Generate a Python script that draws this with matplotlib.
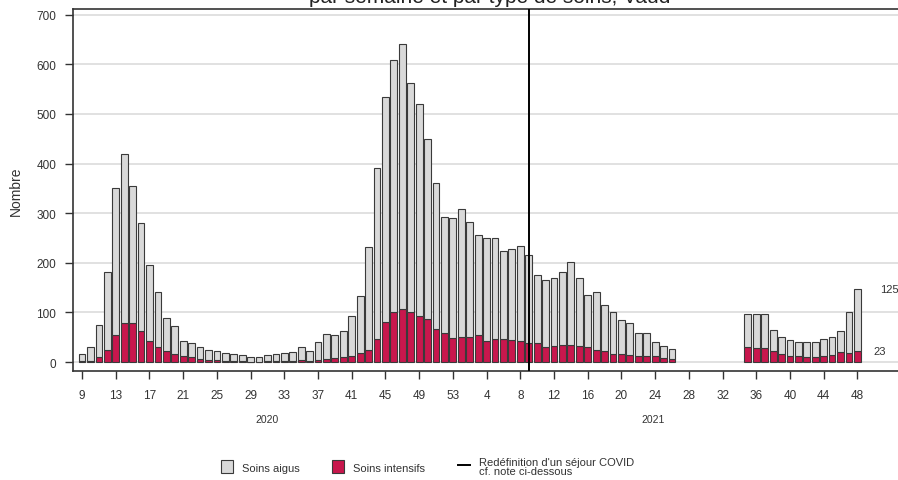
import numpy as np
import matplotlib
matplotlib.use("Agg")
import matplotlib.pyplot as plt
from matplotlib.patches import Patch
from matplotlib.lines import Line2D

plt.rcParams['font.family'] = ['Liberation Sans', 'DejaVu Sans']

# semaines 2020 (9..53) puis 2021 (1..48)
weeks_2020 = list(range(9, 54))
weeks_2021 = list(range(1, 49))

aigus_2020 = [15, 27, 64, 157, 296, 342, 277, 218, 153, 111, 66, 56, 30, 28, 23,
              20, 18, 15, 14, 12, 9, 9, 13, 15, 15, 17, 26, 19, 36, 49,
              46, 52, 79, 116, 207, 345, 454, 509, 535, 462, 427, 364, 295, 235, 243]
intensifs_2020 = [2, 3, 10, 24, 54, 78, 78, 62, 42, 30, 22, 16, 12, 10, 7,
                  5, 4, 3, 2, 2, 1, 1, 2, 2, 3, 3, 4, 3, 5, 7,
                  8, 10, 13, 18, 25, 46, 80, 100, 106, 100, 93, 86, 66, 58, 48]

nan = np.nan
aigus_2021 = [259, 233, 202, 207, 204, 177, 183, 192, 177, 138, 135, 136, 147, 167, 138,
              104, 117, 93, 84, 69, 64, 45, 45, 28, 25, 20,
              nan, nan, nan, nan, nan, nan, nan, nan,
              67, 68, 68, 42, 34, 32, 27, 29, 29, 33, 36, 43, 83, 125]
intensifs_2021 = [50, 50, 54, 43, 46, 46, 45, 42, 39, 38, 30, 33, 34, 35, 32,
                  31, 24, 22, 17, 16, 14, 13, 13, 12, 8, 6,
                  nan, nan, nan, nan, nan, nan, nan, nan,
                  30, 29, 28, 23, 16, 13, 13, 11, 11, 13, 14, 20, 18, 23]

weeks = weeks_2020 + weeks_2021
aigus = np.array(aigus_2020 + aigus_2021, dtype=float)
intensifs = np.array(intensifs_2020 + intensifs_2021, dtype=float)
x = np.arange(len(weeks))

grey = '#d9d9d9'
red = '#c8174d'
edge = '#3a3a3a'

fig = plt.figure(figsize=(8.98, 4.81), dpi=100)
ax = fig.add_axes([0.0813, 0.2266, 0.927, 0.752])

ax.bar(x, intensifs, width=0.8, color=red, edgecolor=edge, linewidth=0.8, zorder=3)
ax.bar(x, aigus, width=0.8, bottom=intensifs, color=grey, edgecolor=edge, linewidth=0.8, zorder=3)

# redefinition du sejour COVID : semaine 9 de 2021
ax.axvline(len(weeks_2020) + 8, color='black', lw=1.4, zorder=4)

ax.set_xlim(-1.07, 97.7)
ax.set_ylim(-18, 711)
ax.set_yticks(range(0, 701, 100))
ax.yaxis.grid(True, color='#dcdcdc', lw=1.2, zorder=0)

tick_pos = [i for i, w in enumerate(weeks_2020) if (w - 9) % 4 == 0]
tick_pos += [len(weeks_2020) + i for i, w in enumerate(weeks_2021) if w % 4 == 0]
ax.set_xticks(tick_pos)
ax.set_xticklabels([str(weeks[i]) for i in tick_pos])

ax.tick_params(axis='both', labelsize=8.5, colors='#333333', length=6, width=1, direction='out')
ax.tick_params(axis='x', pad=7)
ax.tick_params(axis='y', pad=6)
for s in ax.spines.values():
    s.set_color('#333333')
    s.set_linewidth(1.2)

ax.set_ylabel('Nombre', fontsize=10, color='#333333', labelpad=10)

# annees
ax.text(22, -0.133, '2020', transform=ax.get_xaxis_transform(), ha='center', va='center',
        fontsize=7.5, color='#333333')
ax.text(67.8, -0.133, '2021', transform=ax.get_xaxis_transform(), ha='center', va='center',
        fontsize=7.5, color='#333333')

# valeurs de la derniere semaine
last = len(weeks) - 1
ax.text(last + 2.7, aigus[last] + intensifs[last], str(int(aigus[last])), ha='left', va='center',
        fontsize=8, color='#333333')
ax.text(last + 1.9, intensifs[last], str(int(intensifs[last])), ha='left', va='center',
        fontsize=8, color='#333333')

fig.text(0.545, 0.994, 'par semaine et par type de soins, Vaud', ha='center', va='baseline',
         fontsize=15, color='#222222')

handles = [Patch(facecolor=grey, edgecolor=edge, lw=0.8),
           Patch(facecolor=red, edgecolor=edge, lw=0.8),
           Line2D([], [], color='black', lw=1.4)]
labels = ['Soins aigus', 'Soins intensifs', "Redéfinition d'un séjour COVID\ncf. note ci-dessous"]
leg = fig.legend(handles, labels, loc='center', bbox_to_anchor=(0.476, 0.028), ncol=3,
                 frameon=False, fontsize=8, handlelength=1.1, handleheight=1.4,
                 columnspacing=2.9, handletextpad=0.8, labelspacing=0.2)
for t in leg.get_texts():
    t.set_color('#333333')
    t.set_linespacing(0.9)

fig.savefig('out.png', dpi=100)
